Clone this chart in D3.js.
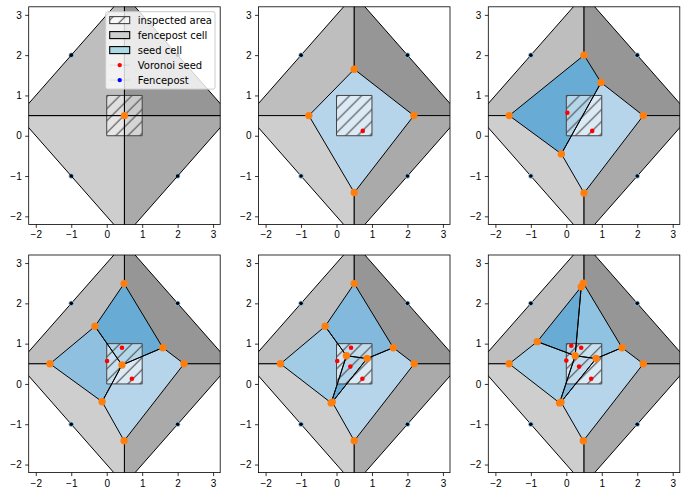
<!DOCTYPE html>
<html lang="en">
<head>
    <meta charset="UTF-8">
    <title>fencepost voronoi</title>
    <script src="https://d3js.org/d3.v7.min.js"></script>
    <style>
        body{ margin: 0; background: #fff; }
        svg{ display: block; font-family: "DejaVu Sans", sans-serif; }
        .tick text{ font-size: 10px; fill: #000; }
        .tick line{ stroke: #000; stroke-width: .8px; }
        .domain{ display: none; }
    </style>
</head>
<body>
<svg id="main" width="683" height="496"></svg>

<script>
    // everything below is in data units
    let xDomain = [-2.2, 3.2]
    let yDomain = [-2.2, 3.2]
    let tickValues = [-2, -1, 0, 1, 2, 3]
    let inspected = [[0, 0], [1, 1]]
    let fenceposts = [[-1, -1], [-1, 2], [2, -1], [2, 2]]
    let fenceCells = [
        [[-2.5, .5], [.5, .5], [.5, 3.5]],
        [[.5, 3.5], [.5, .5], [3.5, .5]],
        [[-2.5, .5], [.5, .5], [.5, -2.5]],
        [[3.5, .5], [.5, .5], [.5, -2.5]]
    ]
    let panelSeeds = [
        [],
        [[.74, .12]],
        [[.03, .57], [.73, .12]],
        [[.43, .9], [.01, .57], [.71, .13]],
        [[.41, .9], [.02, .57], [.39, .43], [.73, .13]],
        [[.14, .95], [.42, .9], [0, .58], [.36, .43], [.7, .13]]
    ]
    let panelCells = [
        [],
        [[[.5, 1.65], [2.18, .5], [.5, -1.41], [-.78, .5]]],
        [
            [[.5, 2], [.98, 1.32], [-.14, -.45], [-1.61, .5]],
            [[.98, 1.32], [2.17, .5], [.5, -1.42], [-.14, -.45]]
        ],
        [
            [[.49, 2.49], [1.58, .9], [.43, .47], [-.33, 1.43]],
            [[-.33, 1.43], [.43, .47], [-.13, -.44], [-1.6, .5]],
            [[.43, .47], [1.58, .9], [2.18, .5], [.49, -1.41], [-.13, -.44]]
        ],
        [
            [[.5, 2.49], [1.6, .9], [.86, .63], [.28, .7], [-.32, 1.43]],
            [[-.32, 1.43], [.28, .7], [-.15, -.47], [-1.58, .5]],
            [[.28, .7], [.86, .63], [-.12, -.45], [-.15, -.47]],
            [[.86, .63], [1.6, .9], [2.19, .5], [.5, -1.41], [-.12, -.45]]
        ],
        [
            [[.42, 2.41], [.25, .7], [-.82, 1.05]],
            [[.48, 2.5], [1.57, .9], [.84, .63], [.25, .7], [.42, 2.41]],
            [[-.82, 1.05], [.25, .7], [-.19, -.47], [-1.61, .5]],
            [[.25, .7], [.84, .63], [-.15, -.45], [-.19, -.47]],
            [[.84, .63], [1.57, .9], [2.17, .5], [.48, -1.41], [-.15, -.45]]
        ]
    ]
    let panelVertices = [
        [[.5, .5]],
        [[.5, 1.65], [-.78, .5], [2.18, .5], [.5, -1.41]],
        [[.5, 2], [.98, 1.32], [2.17, .5], [.5, -1.42], [-.14, -.45], [-1.61, .5]],
        [[.49, 2.49], [-.33, 1.43], [1.58, .9], [2.18, .5], [.49, -1.41], [-.13, -.44], [-1.6, .5], [.43, .47]],
        [[.5, 2.49], [-.32, 1.43], [1.6, .9], [2.19, .5], [.5, -1.41], [-1.58, .5], [-.12, -.45], [-.15, -.47], [.28, .7], [.86, .63]],
        [[.48, 2.5], [.42, 2.41], [-.82, 1.05], [1.57, .9], [2.17, .5], [.48, -1.41], [-1.61, .5], [-.15, -.45], [-.19, -.47], [.25, .7], [.84, .63]]
    ]
    let legendLabels = ["inspected area", "fencepost cell", "seed cell", "Voronoi seed", "Fencepost"]

    let fenceColors = ["#bebebe", "#969696", "#cecece", "#aaaaaa"]
    let panelColors = [
        [],
        ["#b6d4ea"],
        ["#68acd6", "#b6d4ea"],
        ["#68acd6", "#90c0e0", "#b6d4ea"],
        ["#82b9dc", "#a2cbe5", "#68acd6", "#b6d4ea"],
        ["#68acd6", "#90c2e1", "#a6cfe7", "#82b9dc", "#b6d4ea"]
    ]

    let panelLeft = [28.7, 258.5, 488.3]
    let panelTop = [6.8, 255]
    let panelW = 191.5
    let panelH = 217.6

    let svg = d3.select("#main")
    let defs = svg.append("defs")

    // hatch of the inspected square
    let hatch = defs.append("pattern")
        .attr("id", "hatch")
        .attr("patternUnits", "userSpaceOnUse")
        .attr("width", 12)
        .attr("height", 12)
    hatch.append("path")
        .attr("d", "M-3,3L3,-3M0,12L12,0M9,15L15,9")
        .attr("stroke", "#4a4a4a")
        .attr("stroke-width", 1.1)

    let line = d3.line()

    panelCells.forEach(function (cells, i) {
        let left = panelLeft[i % 3]
        let top = panelTop[Math.floor(i / 3)]
        let x = d3.scaleLinear().domain(xDomain).range([0, panelW])
        let y = d3.scaleLinear().domain(yDomain).range([panelH, 0])
        let poly = function (pts) {
            return line(pts.map(function (p) { return [x(p[0]), y(p[1])] })) + "Z"
        }

        let g = svg.append("g").attr("transform", "translate(" + left + "," + top + ")")

        defs.append("clipPath").attr("id", "clip" + i)
            .append("rect").attr("width", panelW).attr("height", panelH)

        let plot = g.append("g").attr("clip-path", "url(#clip" + i + ")")

        plot.selectAll(".fence").data(fenceCells).join("path")
            .attr("class", "fence")
            .attr("d", poly)
            .attr("fill", function (d, j) { return fenceColors[j] })
            .attr("stroke", cells.length ? "#000" : "none")
            .attr("stroke-width", 1)

        plot.selectAll(".post").data(fenceposts).join("circle")
            .attr("class", "post")
            .attr("cx", function (d) { return x(d[0]) })
            .attr("cy", function (d) { return y(d[1]) })
            .attr("r", 2.6)
            .attr("fill", "#7fb6dd")
        plot.selectAll(".postc").data(fenceposts).join("circle")
            .attr("class", "postc")
            .attr("cx", function (d) { return x(d[0]) })
            .attr("cy", function (d) { return y(d[1]) })
            .attr("r", 1.8)
            .attr("fill", "#000")

        plot.selectAll(".cell").data(cells).join("path")
            .attr("class", "cell")
            .attr("d", poly)
            .attr("fill", function (d, j) { return panelColors[i][j] })

        let square = [[inspected[0][0], inspected[0][1]], [inspected[1][0], inspected[0][1]],
            [inspected[1][0], inspected[1][1]], [inspected[0][0], inspected[1][1]]]
        plot.append("path").attr("d", poly(square))
            .attr("fill", "#fff").attr("fill-opacity", .5)
        plot.append("path").attr("d", poly(square))
            .attr("fill", "url(#hatch)")
            .attr("stroke", "#444")
            .attr("stroke-width", 1)

        // cell edges stay black across the square
        plot.selectAll(".edge").data(cells.length ? cells : fenceCells).join("path")
            .attr("class", "edge")
            .attr("d", poly)
            .attr("fill", "none")
            .attr("stroke", "#000")
            .attr("stroke-width", 1)
            .attr("stroke-linejoin", "round")

        plot.selectAll(".seed").data(panelSeeds[i]).join("circle")
            .attr("class", "seed")
            .attr("cx", function (d) { return x(d[0]) })
            .attr("cy", function (d) { return y(d[1]) })
            .attr("r", 2.3)
            .attr("fill", "#f00")

        plot.selectAll(".vertex").data(panelVertices[i]).join("circle")
            .attr("class", "vertex")
            .attr("cx", function (d) { return x(d[0]) })
            .attr("cy", function (d) { return y(d[1]) })
            .attr("r", 3.7)
            .attr("fill", "#ff7f0e")

        g.append("g").attr("transform", "translate(0," + panelH + ")")
            .call(d3.axisBottom(x).tickValues(tickValues).tickFormat(d3.format("d")).tickSize(3.5).tickPadding(3.5))
        g.append("g")
            .call(d3.axisLeft(y).tickValues(tickValues).tickFormat(d3.format("d")).tickSize(3.5).tickPadding(3.5))
        g.append("rect")
            .attr("width", panelW).attr("height", panelH)
            .attr("fill", "none").attr("stroke", "#000").attr("stroke-width", .8)
    })

    // legend lives in the first panel only
    let legend = svg.append("g").attr("transform", "translate(105.7,11.7)")
    legend.append("rect")
        .attr("width", 109.3).attr("height", 77.4).attr("rx", 2)
        .attr("fill", "#fff").attr("fill-opacity", .8)
        .attr("stroke", "#ccc").attr("stroke-width", 1)

    legendLabels.forEach(function (label, i) {
        let row = legend.append("g").attr("transform", "translate(4," + (8.4 + i * 15) + ")")
        if (i < 3) {
            if (i === 0) {
                row.append("rect").attr("y", -3.5).attr("width", 20).attr("height", 7)
                    .attr("fill", "#fff").attr("fill-opacity", .5)
            }
            row.append("rect").attr("y", -3.5).attr("width", 20).attr("height", 7)
                .attr("fill", i === 0 ? "url(#hatch)" : i === 1 ? "#cecece" : "#add8e6")
                .attr("stroke", i === 0 ? "#444" : "#000")
                .attr("stroke-width", 1.1)
        } else {
            row.append("line").attr("x2", 20)
                .attr("stroke", "#000").attr("stroke-opacity", .05).attr("stroke-width", 1.5)
            row.append("circle").attr("cx", 10).attr("r", 2.2)
                .attr("fill", i === 3 ? "#f00" : "#00f")
        }
        row.append("text")
            .attr("x", 28)
            .attr("dy", ".35em")
            .attr("font-size", 10)
            .attr("fill", "#000")
            .text(label)
    })
</script>

</body>
</html>
